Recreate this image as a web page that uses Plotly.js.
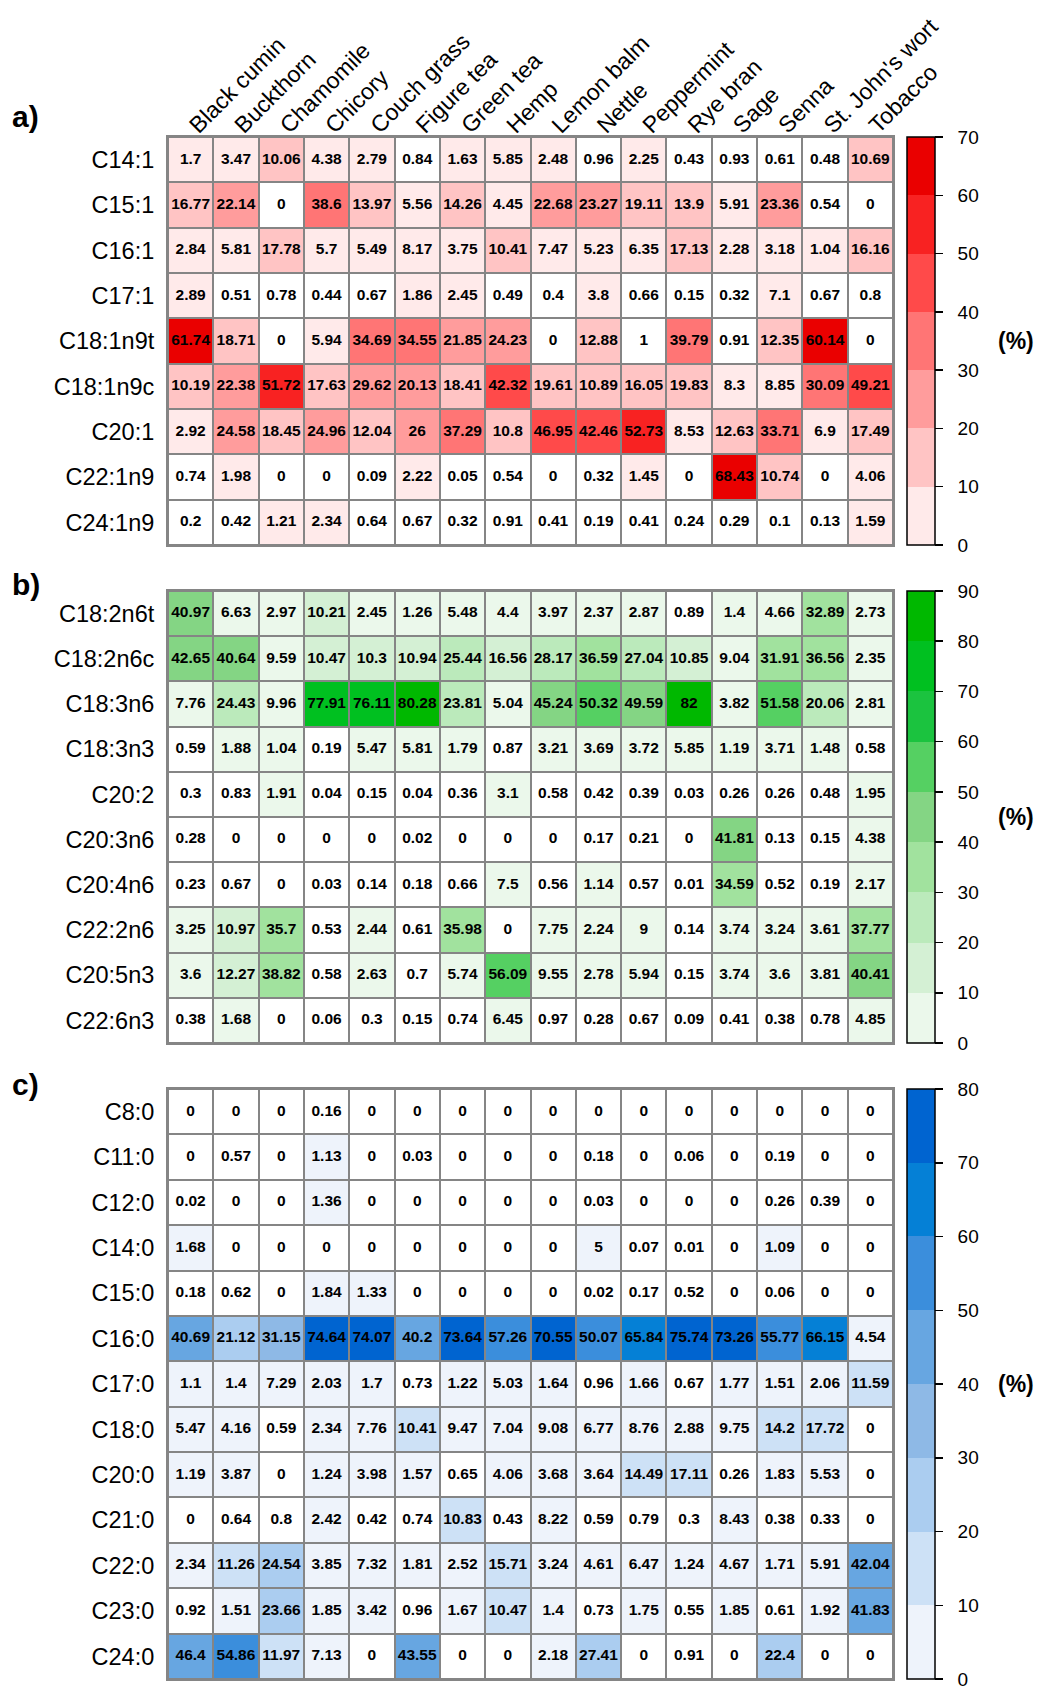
<!DOCTYPE html>
<html>
<head>
<meta charset="utf-8">
<script src="https://cdn.plot.ly/plotly-3.0.1.min.js"></script>
<style>
  html, body { margin: 0; padding: 0; background: #ffffff; }
  #chart { width: 1037px; height: 1686px; }
</style>
</head>
<body>
<div id="chart"></div>
<script>
// ---------------- DATA ----------------
const plants = ["Black cumin", "Buckthorn", "Chamomile", "Chicory", "Couch grass", "Figure tea",
  "Green tea", "Hemp", "Lemon balm", "Nettle", "Peppermint", "Rye bran", "Sage", "Senna",
  "St. John's wort", "Tobacco"];

// a) monounsaturated fatty acids (%)
const rowsA = ["C14:1", "C15:1", "C16:1", "C17:1", "C18:1n9t", "C18:1n9c", "C20:1", "C22:1n9", "C24:1n9"];
const C14_1   = [1.7, 3.47, 10.06, 4.38, 2.79, 0.84, 1.63, 5.85, 2.48, 0.96, 2.25, 0.43, 0.93, 0.61, 0.48, 10.69];
const C15_1   = [16.77, 22.14, 0, 38.6, 13.97, 5.56, 14.26, 4.45, 22.68, 23.27, 19.11, 13.9, 5.91, 23.36, 0.54, 0];
const C16_1   = [2.84, 5.81, 17.78, 5.7, 5.49, 8.17, 3.75, 10.41, 7.47, 5.23, 6.35, 17.13, 2.28, 3.18, 1.04, 16.16];
const C17_1   = [2.89, 0.51, 0.78, 0.44, 0.67, 1.86, 2.45, 0.49, 0.4, 3.8, 0.66, 0.15, 0.32, 7.1, 0.67, 0.8];
const C18_1n9t = [61.74, 18.71, 0, 5.94, 34.69, 34.55, 21.85, 24.23, 0, 12.88, 1, 39.79, 0.91, 12.35, 60.14, 0];
const C18_1n9c = [10.19, 22.38, 51.72, 17.63, 29.62, 20.13, 18.41, 42.32, 19.61, 10.89, 16.05, 19.83, 8.3, 8.85, 30.09, 49.21];
const C20_1   = [2.92, 24.58, 18.45, 24.96, 12.04, 26, 37.29, 10.8, 46.95, 42.46, 52.73, 8.53, 12.63, 33.71, 6.9, 17.49];
const C22_1n9 = [0.74, 1.98, 0, 0, 0.09, 2.22, 0.05, 0.54, 0, 0.32, 1.45, 0, 68.43, 10.74, 0, 4.06];
const C24_1n9 = [0.2, 0.42, 1.21, 2.34, 0.64, 0.67, 0.32, 0.91, 0.41, 0.19, 0.41, 0.24, 0.29, 0.1, 0.13, 1.59];
const valuesA = [C14_1, C15_1, C16_1, C17_1, C18_1n9t, C18_1n9c, C20_1, C22_1n9, C24_1n9];

// b) polyunsaturated fatty acids (%)
const rowsB = ["C18:2n6t", "C18:2n6c", "C18:3n6", "C18:3n3", "C20:2", "C20:3n6", "C20:4n6", "C22:2n6", "C20:5n3", "C22:6n3"];
const C18_2n6t = [40.97, 6.63, 2.97, 10.21, 2.45, 1.26, 5.48, 4.4, 3.97, 2.37, 2.87, 0.89, 1.4, 4.66, 32.89, 2.73];
const C18_2n6c = [42.65, 40.64, 9.59, 10.47, 10.3, 10.94, 25.44, 16.56, 28.17, 36.59, 27.04, 10.85, 9.04, 31.91, 36.56, 2.35];
const C18_3n6  = [7.76, 24.43, 9.96, 77.91, 76.11, 80.28, 23.81, 5.04, 45.24, 50.32, 49.59, 82, 3.82, 51.58, 20.06, 2.81];
const C18_3n3  = [0.59, 1.88, 1.04, 0.19, 5.47, 5.81, 1.79, 0.87, 3.21, 3.69, 3.72, 5.85, 1.19, 3.71, 1.48, 0.58];
const C20_2    = [0.3, 0.83, 1.91, 0.04, 0.15, 0.04, 0.36, 3.1, 0.58, 0.42, 0.39, 0.03, 0.26, 0.26, 0.48, 1.95];
const C20_3n6  = [0.28, 0, 0, 0, 0, 0.02, 0, 0, 0, 0.17, 0.21, 0, 41.81, 0.13, 0.15, 4.38];
const C20_4n6  = [0.23, 0.67, 0, 0.03, 0.14, 0.18, 0.66, 7.5, 0.56, 1.14, 0.57, 0.01, 34.59, 0.52, 0.19, 2.17];
const C22_2n6  = [3.25, 10.97, 35.7, 0.53, 2.44, 0.61, 35.98, 0, 7.75, 2.24, 9, 0.14, 3.74, 3.24, 3.61, 37.77];
const C20_5n3  = [3.6, 12.27, 38.82, 0.58, 2.63, 0.7, 5.74, 56.09, 9.55, 2.78, 5.94, 0.15, 3.74, 3.6, 3.81, 40.41];
const C22_6n3  = [0.38, 1.68, 0, 0.06, 0.3, 0.15, 0.74, 6.45, 0.97, 0.28, 0.67, 0.09, 0.41, 0.38, 0.78, 4.85];
const valuesB = [C18_2n6t, C18_2n6c, C18_3n6, C18_3n3, C20_2, C20_3n6, C20_4n6, C22_2n6, C20_5n3, C22_6n3];

// c) saturated fatty acids (%)
const rowsC = ["C8:0", "C11:0", "C12:0", "C14:0", "C15:0", "C16:0", "C17:0", "C18:0", "C20:0", "C21:0", "C22:0", "C23:0", "C24:0"];
const C8_0  = [0, 0, 0, 0.16, 0, 0, 0, 0, 0, 0, 0, 0, 0, 0, 0, 0];
const C11_0 = [0, 0.57, 0, 1.13, 0, 0.03, 0, 0, 0, 0.18, 0, 0.06, 0, 0.19, 0, 0];
const C12_0 = [0.02, 0, 0, 1.36, 0, 0, 0, 0, 0, 0.03, 0, 0, 0, 0.26, 0.39, 0];
const C14_0 = [1.68, 0, 0, 0, 0, 0, 0, 0, 0, 5, 0.07, 0.01, 0, 1.09, 0, 0];
const C15_0 = [0.18, 0.62, 0, 1.84, 1.33, 0, 0, 0, 0, 0.02, 0.17, 0.52, 0, 0.06, 0, 0];
const C16_0 = [40.69, 21.12, 31.15, 74.64, 74.07, 40.2, 73.64, 57.26, 70.55, 50.07, 65.84, 75.74, 73.26, 55.77, 66.15, 4.54];
const C17_0 = [1.1, 1.4, 7.29, 2.03, 1.7, 0.73, 1.22, 5.03, 1.64, 0.96, 1.66, 0.67, 1.77, 1.51, 2.06, 11.59];
const C18_0 = [5.47, 4.16, 0.59, 2.34, 7.76, 10.41, 9.47, 7.04, 9.08, 6.77, 8.76, 2.88, 9.75, 14.2, 17.72, 0];
const C20_0 = [1.19, 3.87, 0, 1.24, 3.98, 1.57, 0.65, 4.06, 3.68, 3.64, 14.49, 17.11, 0.26, 1.83, 5.53, 0];
const C21_0 = [0, 0.64, 0.8, 2.42, 0.42, 0.74, 10.83, 0.43, 8.22, 0.59, 0.79, 0.3, 8.43, 0.38, 0.33, 0];
const C22_0 = [2.34, 11.26, 24.54, 3.85, 7.32, 1.81, 2.52, 15.71, 3.24, 4.61, 6.47, 1.24, 4.67, 1.71, 5.91, 42.04];
const C23_0 = [0.92, 1.51, 23.66, 1.85, 3.42, 0.96, 1.67, 10.47, 1.4, 0.73, 1.75, 0.55, 1.85, 0.61, 1.92, 41.83];
const C24_0 = [46.4, 54.86, 11.97, 7.13, 0, 43.55, 0, 0, 2.18, 27.41, 0, 0.91, 0, 22.4, 0, 0];
const valuesC = [C8_0, C11_0, C12_0, C14_0, C15_0, C16_0, C17_0, C18_0, C20_0, C21_0, C22_0, C23_0, C24_0];

const panelLabels = ["a)", "b)", "c)"];
const scaleMax = [70, 90, 80];
const scaleStep = 10;
const unitLabel = "(%)";

// ---------------- STYLE ----------------
const redBins   = ["#ffeaea", "#ffc4c4", "#ff9c9c", "#ff7575", "#ff4a4a", "#f82222", "#ea0000"];
const greenBins = ["#ebf8eb", "#d4f0d4", "#bbeabb", "#a1e29e", "#84d584", "#55d062", "#1bc33f", "#00c020", "#00b800"];
const blueBins  = ["#eef3fb", "#cde1f6", "#abcdf0", "#8eb9e6", "#67a6e1", "#3b8edc", "#0580d6", "#0064d0"];

const W = 1037, H = 1686;
const FONT = "Liberation Sans, Arial, Helvetica, sans-serif";
const gridLeft = 168, gridRight = 893;
const panelTop = [137, 591, 1089];
const panelBottom = [545, 1043, 1679];
const labelY = [116, 584, 1084];
const cbLeft = 907, cbThick = 28;
const gridColor = "#858585";
const PAD = "\u00a0\u00a0";

function binnedScale(colors, max, step) {
  const cs = [];
  colors.forEach((c, i) => {
    cs.push([i * step / max, c]);
    cs.push([Math.min(1, (i + 1) * step / max), c]);
  });
  return cs;
}
const fy = p => 1 - p / H;

const panels = [
  { rows: rowsA, vals: valuesA, colors: redBins },
  { rows: rowsB, vals: valuesB, colors: greenBins },
  { rows: rowsC, vals: valuesC, colors: blueBins }
];

const data = [];
const layout = {
  width: W, height: H,
  margin: { l: 0, r: 0, t: 0, b: 0 },
  paper_bgcolor: "#ffffff",
  plot_bgcolor: gridColor,
  showlegend: false,
  font: { family: FONT, color: "#000" },
  annotations: []
};

panels.forEach((p, k) => {
  const xa = k === 0 ? "x" : "x" + (k + 1);
  const ya = k === 0 ? "y" : "y" + (k + 1);
  const max = scaleMax[k];
  const ticks = [];
  for (let t = 0; t <= max; t += scaleStep) ticks.push(t);
  const domTop = panelTop[k], domBot = panelBottom[k];

  // coloured cells
  data.push({
    type: "heatmap", x: plants, y: p.rows, z: p.vals,
    xaxis: xa, yaxis: ya,
    zmin: 0, zmax: max, zauto: false,
    colorscale: binnedScale(p.colors, max, scaleStep),
    xgap: 2, ygap: 2, hoverinfo: "skip",
    colorbar: {
      x: cbLeft / W, xanchor: "left", xref: "paper",
      y: fy((domTop + domBot) / 2), yanchor: "middle", yref: "paper",
      len: (domBot - domTop) / H, lenmode: "fraction",
      thickness: cbThick, thicknessmode: "pixels",
      xpad: 0, ypad: 0,
      outlinecolor: "#000", outlinewidth: 1.5,
      ticks: "outside", ticklen: 8, tickwidth: 1.5, tickcolor: "#000",
      ticklabeloverflow: "allow",
      tickvals: ticks, ticktext: ticks.map(t => PAD + String(t)),
      tickfont: { family: FONT, size: 19, color: "#000" }
    }
  });
  // very small values (<= 1) shown as white cells
  data.push({
    type: "heatmap", x: plants, y: p.rows,
    z: p.vals.map(r => r.map(v => (v <= 1 ? 0 : null))),
    xaxis: xa, yaxis: ya,
    colorscale: [[0, "#ffffff"], [1, "#ffffff"]],
    showscale: false, xgap: 2, ygap: 2, hoverinfo: "skip"
  });
  // cell values
  const tx = [], ty = [], tt = [];
  p.rows.forEach((r, i) => plants.forEach((c, j) => {
    tx.push(c); ty.push(r); tt.push(String(p.vals[i][j]));
  }));
  data.push({
    type: "scatter", mode: "text", x: tx, y: ty, text: tt,
    xaxis: xa, yaxis: ya, cliponaxis: false, hoverinfo: "skip",
    textposition: "middle center",
    textfont: { family: FONT, size: 15.5, color: "#000", weight: "bold" }
  });

  const xKey = k === 0 ? "xaxis" : "xaxis" + (k + 1);
  const yKey = k === 0 ? "yaxis" : "yaxis" + (k + 1);
  layout[xKey] = {
    domain: [gridLeft / W, gridRight / W], anchor: ya,
    type: "category", range: [-0.5, plants.length - 0.5],
    side: "top", showticklabels: k === 0, tickangle: -45,
    tickfont: { family: FONT, size: 23, color: "#000" },
    ticks: "", ticklabelstandoff: -12,
    showgrid: false, zeroline: false,
    showline: true, mirror: true, linecolor: gridColor, linewidth: 2,
    fixedrange: true
  };
  layout[yKey] = {
    domain: [fy(domBot), fy(domTop)], anchor: xa,
    type: "category", range: [p.rows.length - 0.5, -0.5],
    tickfont: { family: FONT, size: 23.5, color: "#000" },
    ticks: "outside", ticklen: 7, tickcolor: "rgba(0,0,0,0)",
    showgrid: false, zeroline: false,
    showline: true, mirror: true, linecolor: gridColor, linewidth: 2,
    fixedrange: true
  };
  layout.annotations.push({
    xref: "paper", yref: "paper", x: 10 / W, y: fy(labelY[k]),
    xanchor: "left", yanchor: "middle", showarrow: false,
    text: "<b>" + panelLabels[k] + "</b>",
    font: { family: FONT, size: 30, color: "#000" }
  });
  layout.annotations.push({
    xref: "paper", yref: "paper", x: 1016 / W, y: fy((domTop + domBot) / 2),
    xanchor: "center", yanchor: "middle", showarrow: false,
    text: "<b>" + unitLabel + "</b>",
    font: { family: FONT, size: 23, color: "#000" }
  });
});

Plotly.newPlot("chart", data, layout, { staticPlot: true, displayModeBar: false });
</script>
</body>
</html>
